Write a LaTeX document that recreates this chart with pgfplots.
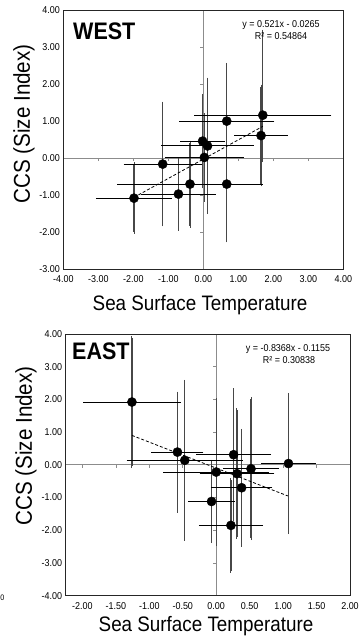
\documentclass[border=0pt]{standalone}
\usepackage{fontspec}
\setmainfont{Liberation Sans}[FakeStretch=0.9]
\usepackage{pgfplots}
\usepackage{pgfplotstable}
\pgfplotsset{compat=1.18}

% WEST: points with x errors and (upper, lower) y errors
\pgfplotstableread{
x y ex eyp eym
1.70 1.16 1.90 2.25 1.21
1.65 0.61 0.71 1.32 1.32
0.67 1.00 1.30 1.52 1.52
0.67 -0.70 0.62 1.52 1.52
-0.38 -0.70 2.02 1.12 1.12
0.03 0.02 1.07 1.14 1.14
0.12 0.33 1.26 1.79 1.79
-0.02 0.46 0.58 1.22 1.22
-1.16 -0.16 1.06 1.63 1.63
-0.71 -0.97 1.01 0.94 0.94
-1.98 -1.08 1.03 0.91 0.91
}\westP
% EAST
\pgfplotstableread{
x y ex eyp eym
-1.26 1.92 0.70 1.96 1.96
-0.58 0.39 0.36 1.79 1.79
-0.47 0.14 0.84 2.40 2.40
0.26 0.31 0.53 1.97 1.97
1.08 0.04 0.38 2.10 2.10
0.00 -0.22 0.76 2.20 2.20
0.31 -0.27 0.53 1.94 1.94
0.52 -0.12 0.39 2.12 2.12
0.38 -0.70 0.43 1.74 1.74
-0.07 -1.12 0.32 1.21 1.21
0.22 -1.85 0.45 1.38 1.38
}\eastP

\pgfplotsset{
  zeroaxis/.style={scale only axis, axis lines=middle,
    axis line style={-, black!45, line width=0.7bp},
    xticklabels={}, yticklabels={},
    tick style={black!45, line width=0.6bp},
    major tick length=3bp, tick align=outside},
  mainaxis/.style={scale only axis,
    major tick length=0pt,
    axis line style={black!85, line width=0.8bp},
    tick label style={font=\fontsize{10}{12}\selectfont,
      /pgf/number format/fixed, /pgf/number format/fixed zerofill,
      /pgf/number format/precision=2, /pgf/number format/assume math mode=true},
    xticklabel style={yshift=-3bp}},
  vbars/.style={only marks, mark=none, error bars/.cd, y dir=both, y explicit,
    error bar style={black!72, line width=1.3bp},
    error mark options={black!72, line width=1bp, mark size=2bp}},
  hbars/.style={only marks, mark=none, error bars/.cd, x dir=both, x explicit,
    error bar style={black, line width=1bp},
    error mark options={black, line width=0.9bp, mark size=2bp}},
  dots/.style={only marks, mark=*, mark size=4.6bp, black, mark options={fill=black}},
  trend/.style={black, dash pattern=on 3bp off 2bp, line width=0.8bp},
}

\begin{document}
\begin{tikzpicture}[x=1bp,y=1bp]
\path[use as bounding box] (0,0) rectangle (358,637);

% ---------------- WEST ----------------
\begin{axis}[zeroaxis, at={(63.3bp,367.7bp)}, anchor=south west,
  width=280bp, height=259.3bp, xmin=-4, xmax=4, ymin=-3, ymax=4,
  xtick={-3,...,3}, ytick={-3,...,4}]
\end{axis}
\begin{axis}[mainaxis, at={(63.3bp,367.7bp)}, anchor=south west,
  width=280bp, height=259.3bp, xmin=-4, xmax=4, ymin=-3, ymax=4,
  xtick={-4,...,4}, ytick={-3,...,4}]
\addplot[vbars] table[x=x,y=y,y error plus=eyp,y error minus=eym]{\westP};
\addplot[hbars] table[x=x,y=y,x error=ex]{\westP};
\addplot[trend] coordinates {(-1.98,-1.058) (1.70,0.859)};
\addplot[dots] table[x=x,y=y]{\westP};
\end{axis}

% ---------------- EAST ----------------
\begin{axis}[zeroaxis, at={(65.7bp,41.3bp)}, anchor=south west,
  width=284.3bp, height=261.7bp, xmin=-2.25, xmax=2, ymin=-4, ymax=4,
  xtick={-2,-1.5,...,2}, ytick={-4,...,4}]
\end{axis}
\begin{axis}[mainaxis, at={(65.7bp,41.3bp)}, anchor=south west,
  width=284.3bp, height=261.7bp, xmin=-2.25, xmax=2, ymin=-4, ymax=4,
  xtick={-2,-1.5,...,2}, ytick={-4,...,4}]
\addplot[vbars] table[x=x,y=y,y error plus=eyp,y error minus=eym]{\eastP};
\addplot[hbars] table[x=x,y=y,x error=ex]{\eastP};
\addplot[trend] coordinates {(-1.26,0.90) (1.07,-0.95)};
\addplot[dots] table[x=x,y=y]{\eastP};
\end{axis}

% ---------------- texts ----------------
\node[anchor=base west, inner sep=0pt, font=\fontsize{24}{24}\selectfont\bfseries] at (73,{637-40}) {WEST};
\node[anchor=base west, inner sep=0pt, font=\fontsize{24}{24}\selectfont\bfseries] at (72,{637-360}) {EAST};

\node[anchor=base, inner sep=0pt, font=\fontsize{10}{12}\selectfont] at (281,{637-28}) {y = 0.521x - 0.0265};
\node[anchor=base, inner sep=0pt, font=\fontsize{10}{12}\selectfont] at (281,{637-39.5}) {R² = 0.54864};
\node[anchor=base, inner sep=0pt, font=\fontsize{10}{12}\selectfont] at (288,{637-351.5}) {y = -0.8368x - 0.1155};
\node[anchor=base, inner sep=0pt, font=\fontsize{10}{12}\selectfont] at (289,{637-364}) {R² = 0.30838};

\node[rotate=90, inner sep=0pt, font=\fontsize{23}{23}\selectfont] at (24,{637-124}) {CCS (Size Index)};
\node[rotate=90, inner sep=0pt, font=\fontsize{23}{23}\selectfont] at (26,{637-446}) {CCS (Size Index)};

\node[anchor=base, inner sep=0pt, font=\fontsize{21}{21}\selectfont] at (200,{637-311}) {Sea Surface Temperature};
\node[anchor=base, inner sep=0pt, font=\fontsize{21}{21}\selectfont] at (206,{637-632}) {Sea Surface Temperature};

\node[anchor=west, inner sep=0pt, font=\fontsize{8}{10}\selectfont] at (0.3,{637-598}) {0};
\end{tikzpicture}
\end{document}
